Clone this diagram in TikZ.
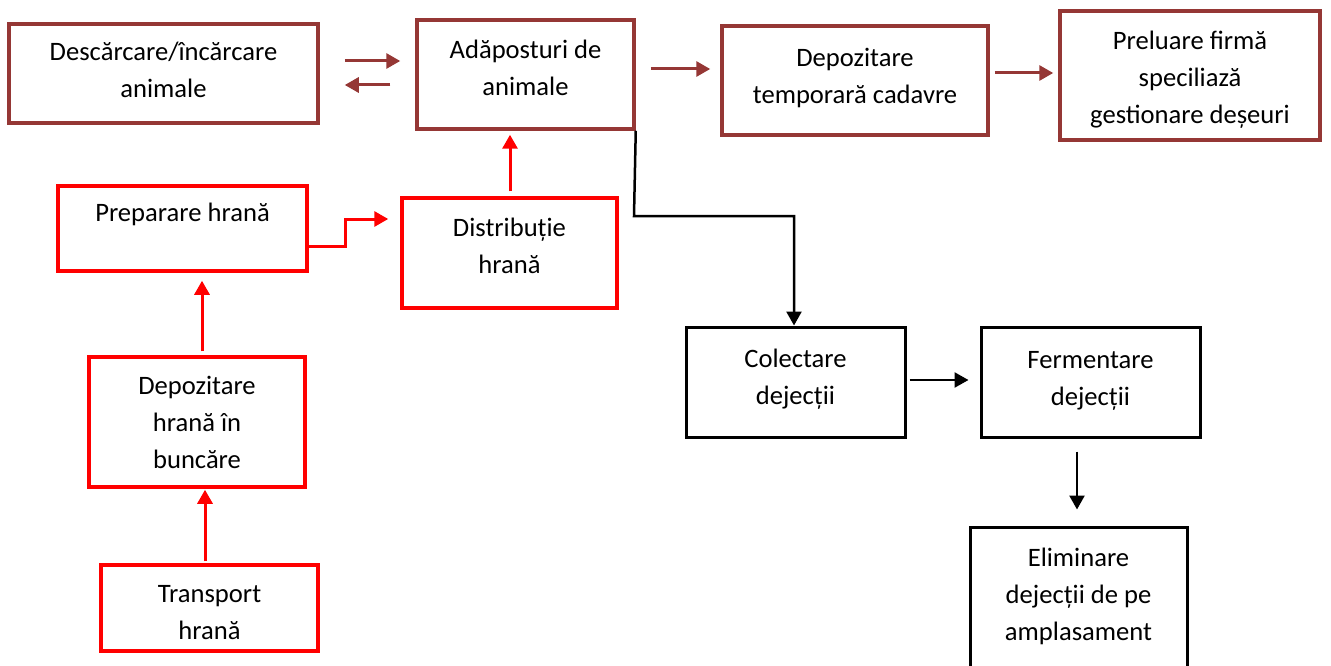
\documentclass[tikz,border=0pt]{standalone}
\usepackage{fontspec}
\setmainfont{Carlito}
\usetikzlibrary{arrows.meta}
\definecolor{brownred}{HTML}{953735}
% text block moved up / down inside its box
\newcommand{\liftup}[2]{\raisebox{0pt}[\height][\dimexpr\depth+#1*2\relax]{\begin{tabular}{@{}c@{}}#2\end{tabular}}}
\newcommand{\pushdown}[2]{\raisebox{0pt}[\dimexpr\height+#1*2\relax][\depth]{\begin{tabular}{@{}c@{}}#2\end{tabular}}}
\tikzset{
  box/.style={draw, line width=3.5pt, align=center, inner sep=0pt},
  brownbox/.style={box, draw=brownred},
  redbox/.style={box, draw=red},
  blackbox/.style={box, draw=black, line width=3pt},
  flow/.style={line width=3pt, -{Triangle[length=14pt,width=15pt]}},
}
\begin{document}
\begin{tikzpicture}[x=1pt, y=-1pt, font=\fontsize{26.6}{37}\selectfont]
\path[use as bounding box, clip] (0,0) rectangle (1331,666);
\fill[white] (0,0) rectangle (1331,666);

\node[brownbox, minimum width=309, minimum height=99] (desc) at (163.5,73.5) {\liftup{2pt}{Descărcare/încărcare\\ animale}};
\node[brownbox, minimum width=217, minimum height=109] (adap) at (525.5,74.5) {\liftup{5pt}{Adăposturi de\\ animale}};
\node[brownbox, minimum width=266, minimum height=109] (depo) at (855,80.5) {\liftup{3pt}{Depozitare\\ temporară cadavre}};
\node[brownbox, minimum width=260, minimum height=129] (prel) at (1190,75.5) {\pushdown{4pt}{Preluare firmă\\ speciliază\\ gestionare deșeuri}};

\node[redbox, minimum width=249, minimum height=85] (prep) at (182.5,228.5) {\liftup{14.5pt}{Preparare hrană}};
\node[redbox, minimum width=215, minimum height=110] (dist) at (509.5,253) {\liftup{5.5pt}{Distribuție\\ hrană}};
\node[redbox, minimum width=216, minimum height=130] (bunc) at (197,422) {\pushdown{2pt}{Depozitare\\ hrană în\\ buncăre}};
\node[redbox, minimum width=217, minimum height=86] (transp) at (209.5,608) {\pushdown{6pt}{Transport\\ hrană}};

\node[blackbox, minimum width=219, minimum height=110] (colect) at (795.5,382) {\liftup{3.5pt}{Colectare\\ dejecții}};
\node[blackbox, minimum width=219, minimum height=110] (ferm) at (1090.5,382) {\liftup{2.5pt}{Fermentare\\ dejecții}};
\node[blackbox, minimum width=217, minimum height=150] (elim) at (1078.5,602) {\liftup{6pt}{Eliminare\\ dejecții de pe\\ amplasament}};

% animals
\draw[flow, brownred, shorten <=25pt, shorten >=15pt] ([yshift=12.5pt]desc.east) -- ([yshift=12.5pt]desc.east -| adap.west);
\draw[flow, brownred, shorten <=25pt, shorten >=25pt] ([yshift=-11.5pt]desc.east -| adap.west) -- ([yshift=-11.5pt]desc.east);
\draw[flow, brownred, shorten <=15pt, shorten >=10pt] ([yshift=5.5pt]adap.east) -- ([yshift=5.5pt]adap.east -| depo.west);
\draw[flow, brownred, shorten <=5pt, shorten >=5pt] ([yshift=7.5pt]depo.east) -- ([yshift=7.5pt]depo.east -| prel.west);

% feed
\draw[flow, red, shorten <=5pt, shorten >=4pt] ([xshift=0.5pt]dist.north) -- ([xshift=0.5pt]dist.north |- adap.south);
\draw[flow, red, shorten >=12pt] ([yshift=-17.5pt]prep.east) -- (345,246) |- ([yshift=34pt]dist.west);
\draw[flow, red, shorten <=4pt, shorten >=8pt] ([xshift=5pt]bunc.north) -- ([xshift=5pt]bunc.north |- prep.south);
\draw[flow, red, shorten <=2pt, shorten >=1pt] ([xshift=-4.5pt]transp.north) -- ([xshift=-4.5pt]transp.north |- bunc.south);

% manure
\draw[flow, line width=2.5pt] (adap.south east) -- (634,216) -| ([xshift=-1.5pt]colect.north);
\draw[flow, line width=2.5pt, shorten <=3pt, shorten >=11pt] ([yshift=2pt]colect.east) -- ([yshift=2pt]colect.east -| ferm.west);
\draw[flow, line width=2.5pt, shorten <=13pt, shorten >=16pt] ([xshift=-13.5pt]ferm.south) -- ([xshift=-13.5pt]ferm.south |- elim.north);
\end{tikzpicture}
\end{document}
